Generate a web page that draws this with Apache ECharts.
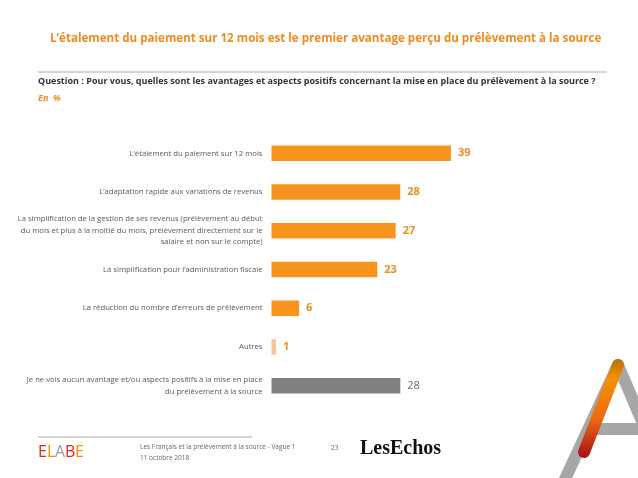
<!DOCTYPE html>
<html>
<head>
<meta charset="utf-8">
<script src="https://cdn.jsdelivr.net/npm/echarts@6/dist/echarts.min.js"></script>
<style>
  html, body { margin: 0; padding: 0; background: #fff; }
  #chart { width: 638px; height: 478px; }
</style>
</head>
<body>
<div id="chart"></div>
<script>
var categories = [
  "L\u2019étalement du paiement sur 12 mois",
  "L\u2019adaptation rapide aux variations de revenus",
  "La simplification de la gestion de ses revenus (prélèvement au début\ndu mois et plus à la moitié du mois, prélèvement directement sur le\nsalaire et non sur le compte)",
  "La simplification pour l\u2019administration fiscale",
  "La réduction du nombre d\u2019erreurs de prélèvement",
  "Autres",
  "Je ne vois aucun avantage et/ou aspects positifs à la mise en place\ndu prélèvement à la source"
];
var values = [39, 28, 27, 23, 6, 1, 28];
var barColors = ["#F7941D", "#F7941D", "#F7941D", "#F7941D", "#F7941D", "#F8C4A0", "#808080"];
var labelColors = ["#F08C1E", "#F08C1E", "#F08C1E", "#F08C1E", "#F08C1E", "#F08C1E", "#6b6b6b"];

var font = "Open Sans";
var chart = echarts.init(document.getElementById("chart"));

var option = {
  animation: false,
  grid: { left: 271.5, top: 134, width: 276, height: 271 },
  xAxis: {
    type: "value", min: 0, max: 60, show: false
  },
  yAxis: {
    type: "category",
    inverse: true,
    data: categories,
    axisLine: { show: false },
    axisTick: { show: false },
    axisLabel: {
      color: "#5a5a5a",
      fontFamily: font,
      fontSize: 7.7,
      lineHeight: 11.5,
      align: "right",
      margin: 9
    }
  },
  series: [{
    type: "bar",
    barWidth: "40%",
    data: values.map(function (v, i) {
      return {
        value: v,
        itemStyle: { color: barColors[i] },
        label: { color: labelColors[i], fontWeight: i === 6 ? "normal" : "bold" }
      };
    }),
    label: {
      show: true,
      position: "right",
      distance: 7,
      fontFamily: font,
      fontSize: 11
    }
  }],
  graphic: [
    { type: "text", left: 50, top: 33, style: { text: "L\u2019étalement du paiement sur 12 mois est le premier avantage perçu du prélèvement à la source", fill: "#F08C1E", font: "bold 11.6px 'Open Sans'" } },
    { type: "line", shape: { x1: 38, y1: 72, x2: 607, y2: 72 }, style: { stroke: "#aaaaaa", lineWidth: 1 } },
    { type: "text", left: 38, top: 77, style: { text: "Question : Pour vous, quelles sont les avantages et aspects positifs concernant la mise en place du prélèvement à la source ?", fill: "#333333", font: "bold 9px 'Open Sans'" } },
    { type: "text", left: 38, top: 94, style: { text: "En  %", fill: "#F08C1E", font: "italic bold 9px 'Open Sans'" } },
    // footer
    { type: "line", shape: { x1: 38, y1: 437, x2: 252, y2: 437 }, style: { stroke: "#aaaaaa", lineWidth: 1 } },
    { type: "text", left: 38, top: 444, style: { text: "E", fill: "#E2231A", font: "16px 'Open Sans'" } },
    { type: "text", left: 47, top: 444, style: { text: "L", fill: "#F39200", font: "16px 'Open Sans'" } },
    { type: "text", left: 55, top: 444, style: { text: "A", fill: "#9c9c9c", font: "16px 'Open Sans'" } },
    { type: "text", left: 65, top: 444, style: { text: "B", fill: "#E2231A", font: "16px 'Open Sans'" } },
    { type: "text", left: 75, top: 444, style: { text: "E", fill: "#F39200", font: "16px 'Open Sans'" } },
    { type: "text", left: 140, top: 444, style: { text: "Les Français et la prélèvement à la source - Vague 1", fill: "#666666", font: "6.5px 'Open Sans'" } },
    { type: "text", left: 140, top: 455, style: { text: "11 octobre 2018", fill: "#666666", font: "6.5px 'Open Sans'" } },
    { type: "text", left: 331, top: 445, style: { text: "23", fill: "#666666", font: "6.5px 'Open Sans'" } },
    { type: "text", left: 360, top: 439, style: { text: "LesEchos", fill: "#111111", font: "bold 20px 'Liberation Serif'" } },
    // A logo
    { type: "line", shape: { x1: 618, y1: 365, x2: 560, y2: 490 }, style: { stroke: "#a7a7a9", lineWidth: 12, lineCap: "round" } },
    { type: "line", shape: { x1: 618, y1: 365, x2: 650, y2: 440 }, style: { stroke: "#a7a7a9", lineWidth: 12, lineCap: "round" } },
    { type: "line", shape: { x1: 585, y1: 429, x2: 645, y2: 429 }, style: { stroke: "#a7a7a9", lineWidth: 12 } },
    { type: "line", shape: { x1: 618, y1: 365, x2: 584, y2: 452 },
      style: { lineWidth: 12, lineCap: "round",
        stroke: new echarts.graphic.LinearGradient(0, 0, 0, 1, [
          { offset: 0, color: "#B5730A" },
          { offset: 0.2, color: "#F39200" },
          { offset: 0.6, color: "#EE6A10" },
          { offset: 1, color: "#A80F14" }
        ], false) } }
  ]
};
chart.setOption(option);
</script>
</body>
</html>
